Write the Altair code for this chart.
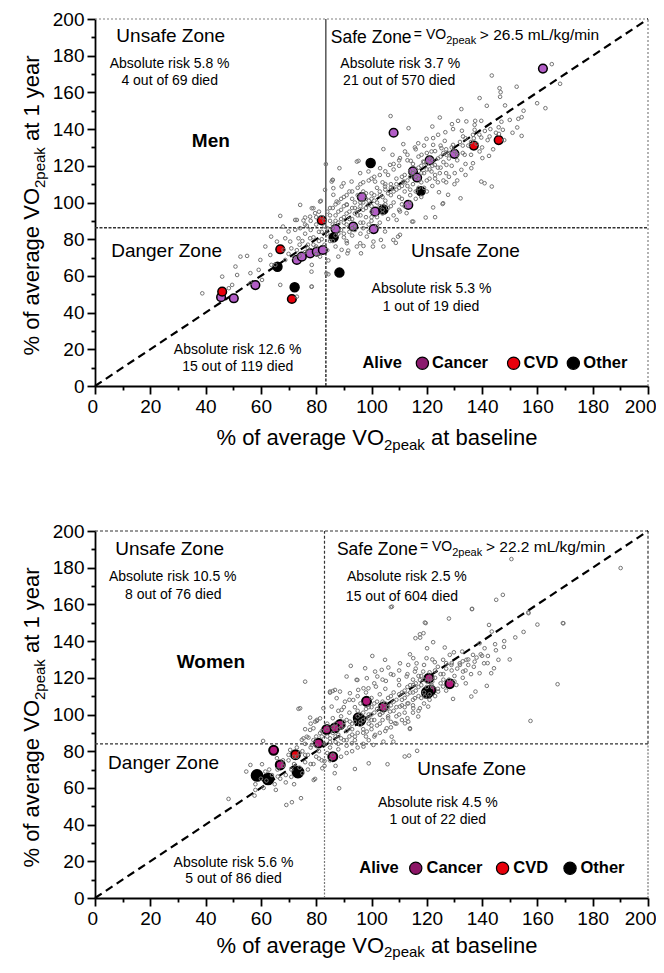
import altair as alt
import pandas as pd

FONT = "Liberation Sans"
W, H = 553, 367

# ---------------- MEN ----------------
men_alive = [
    (165.2,175.4),(168.2,164.7),(143.5,169.2),(146.3,162.3),(146.7,160.1),(146.5,157.6),(152.5,163.1),
    (139.1,156.9),(141.7,152.7),(148.3,152.9),(159.9,154.1),(162.9,151.4),(132.5,150.9),(106.9,147.1),
    (124.7,146.3),(153.1,145.6),(154.3,146.5),(131.3,144.5),(134.3,144.2),(137.5,144.5),(139.7,144.5),
    (129.1,142.7),(137.3,142.3),(113.4,140.5),(122.0,141.4),(126.7,138.3),(129.5,140.0),(132.7,139.1),
    (137.3,139.6),(152.7,140.9),(154.3,136.3),(147.5,139.6),(146.1,137.4),(133.1,136.0),(136.7,136.9),
    (139.7,135.4),(142.7,136.0),(124.1,136.9),(122.3,135.1),(126.5,133.6),(119.9,134.7),(116.9,132.3),
    (111.5,131.8),(104.3,129.1),(112.1,127.8),(115.7,130.0),(107.6,126.0),(110.3,124.2),(114.2,122.7),
    (139.1,127.8),(142.5,125.4),(140.1,124.2),(133.7,126.0),(136.7,121.4),(136.1,118.7),(132.5,117.8),
    (130.1,116.0),(139.7,111.4),(143.5,108.7),(140.9,110.5),(132.2,102.3),(127.7,104.2),(124.4,105.6),
    (125.9,99.6),(122.3,97.3),(119.6,91.8),(114.7,89.6),(109.1,90.5),(110.3,95.1),(95.3,122.7),
    (88.4,118.7),(83.5,120.9),(85.9,112.3),(89.2,108.7),(86.2,107.8),(83.2,106.9),(81.7,100.9),
    (79.0,96.9),(76.0,91.8),(95.9,116.0),(92.8,111.4),(98.9,116.9),(103.1,118.7),(106.7,120.5),
    (101.3,111.4),(104.9,108.7),(107.9,107.8),(111.5,111.4),(122.9,120.5),(127.1,120.5),(124.7,116.0),
    (121.7,116.9),(118.7,122.3),(118.1,126.0),(127.1,126.0),(125.3,129.6),(129.5,131.4),(122.3,131.4),
    (121.7,127.8),
    (94.7,122.3),(85.6,111.4),(89.9,110.5),(86.2,104.2),(81.4,100.5),(74.2,98.7),(78.4,96.9),
    (87.4,100.5),(91.1,98.7),(67.0,92.7),(73.0,90.5),(75.4,90.2),(77.8,92.3),(79.6,94.2),(68.0,86.9),
    (70.0,84.2),(72.4,85.1),(74.2,86.0),(76.6,87.3),(63.7,81.4),(65.8,78.7),(68.8,80.5),(70.6,78.7),
    (73.6,80.5),(77.8,80.5),(61.6,76.0),(59.8,68.7),(63.4,71.4),(68.2,74.2),(65.2,66.0),(68.8,68.7),
    (52.6,70.5),(55.0,70.9),(50.8,65.1),(51.4,60.5),(56.2,61.5),(59.2,63.3),(46.0,59.6),(49.6,55.1),
    (48.4,53.3),(56.2,56.0),(60.4,57.8),(67.0,55.1),(78.4,54.2),(84.4,60.9),(84.4,68.4),(88.0,70.5),
    (91.6,73.8),(94.7,76.0),(97.1,76.3),(100.7,78.7),(104.3,76.0),(107.9,79.6),(110.3,82.4),(115.1,89.6),
    (112.7,94.2),(104.9,84.2),(98.3,81.4),(91.1,77.8),(89.2,74.2),(81.4,70.5),(78.4,66.0),(38.8,50.5),
    (95.9,77.8),(103.4,79.6),(109.6,81.4),(108.8,78.0),(91.3,72.3),(96.2,72.3),(100.5,76.0),(78.3,62.3),
    (83.7,61.4),(63.8,66.0),(73.0,48.7),(78.3,54.1),(123.0,92.0),(125.7,99.2),(72.4,90.5),(86.0,112.3),
    (75,79),(76,83),(77,77),(78,85),(79,81),(80,88),(80,76),(81,84),(82,80),(82,92),(83,87),(84,83),
    (84,95),(85,90),(85,79),(86,86),(86,97),(87,93),(87,82),(88,89),(88,100),(89,85),(89,96),(90,92),
    (90,103),(91,88),(91,99),(92,95),(92,84),(92,106),(93,91),(93,102),(94,97),(94,87),(95,104),(95,93),
    (96,100),(96,110),(96,89),(97,96),(97,106),(98,92),(98,102),(99,99),(99,112),(99,88),(100,105),
    (100,95),(101,101),(101,114),(102,108),(102,92),(103,98),(103,104),(104,111),(104,94),(105,107),
    (105,101),(106,115),(106,97),(107,104),(107,110),(108,100),(108,118),(109,107),(109,113),(110,103),
    (110,120),(111,109),(111,99),(112,115),(112,106),(113,112),(113,123),(114,104),(114,117),(115,110),
    (115,121),(116,106),(116,114),(117,119),(117,125),(118,111),(118,116),(119,122),(119,108),(120,118),
    (120,127),(121,113),(121,124),(122,120),(123,115),(123,128),(124,124),(125,119),(125,131),(126,122),
    (127,116),(127,129),(128,124),(129,120),(130,128),(131,123),(132,133),(133,127),(134,121),(135,131),
    (136,126),(138,132),(140,130),(142,134),(144,129),(146,141),(148,134),(150,145),(151,138),(155,150),
    (70,72),(71,75),(72,70),(73,74),(74,77),(74,71),(76,73),(77,75),(79,77),(80,72),(81,79),(83,77),
    (84,74),(86,79),(87,76),(88,83),(90,81),(91,79),(93,82),(94,85),(96,83),(97,86),(99,84),(100,90),
    (102,87),(103,89),(106,91),(108,93),(110,96),(112,98),(114,100),(116,102),(118,103),(120,106),
    (122,109),(124,111),(126,112),(128,114),(130,110),(131,112),(134,115),
    (82,84),(83,90),(84,86),(85,93),(86,88),(87,90),(88,95),(89,91),(90,89),(90,98),(91,94),(92,91),
    (93,97),(94,94),(94,100),(95,96),(96,98),(96,93),(97,100),(98,97),(98,105),(99,101),(100,98),
    (100,102),(101,104),(102,100),(103,106),(104,103),(105,99),(105,110),(106,105),(107,108),(108,106),
    (109,110),(110,108),(111,114),(112,111),(113,109),(114,114),(115,116),(116,118),(117,113),(118,120),
    (119,116),(120,121),(121,118),(122,123),(124,119),(125,125),(126,127),(128,127),(129,130),(131,126),
    (133,131),(134,135),(136,133),(137,135),(139,137),(141,139),(143,140),(145,138),(147,144),(85,97),
    (87,99),(89,102),(91,104),(93,106),(95,108),(97,111),(100,113),(103,115),(105,117),(108,121),
    (110,123),(113,126),(116,129),(119,131),(90,83),(93,86),(97,89),(100,92),(104,96),(107,98),(111,102),
    (114,107),(117,108),(120,112),(123,113),(127,111),(76,88),(78,90),(80,92),(81,95),
]
men_cancer = [(162,173),(108,138),(130,126.5),(121,123),(115,117),(116.5,113.6),(113.3,98.7),(96.5,103),
              (101.3,95),(93.4,86.9),(100.8,85.5),(87,85.5),(73,68.7),(74.8,70.5),(77.8,72.3),(80.2,73.2),
              (82.4,74.1),(58,55),(45.6,48.4),(50.2,47.8)]
men_cvd = [(137,131),(146,134),(82,90.3),(67,74.5),(71.2,47.4),(46,51.4)]
men_other = [(99.7,121.5),(117.8,106.2),(104.3,96.2),(86.3,81),(66,65),(88.4,61.8),(72.2,53.8)]

men_zone_labels = [("Unsafe Zone",27.4,187.2),("Danger Zone",25.9,70.5),("Unsafe Zone",134,70.5)]
men_risk_texts = [("Absolute risk 5.8 %",27,173.2),("4 out of 69 died",27,164.1),
                  ("Absolute risk 3.7 %",110.4,173.2),("21 out of 570 died",110,164.1),
                  ("Absolute risk 5.3 %",121.7,50.5),("1 out of 19 died",121.5,40.9),
                  ("Absolute risk 12.6 %",51.6,17.4),("15 out of 119 died",51.6,8.4)]
men_group = ("Men",41.9,130.5)
men_safe = (85.3,186.8,"> 26.5 mL/kg/min")
men_thr = (83.5,86.2)
men_legend_text = [("Alive",96.7),("Cancer",121.9),("CVD",155),("Other",176.6)]
men_legend_sym = [(118.4,"Cancer"),(151.4,"CVD"),(173,"Other")]
men_legend_y = 12.4

# ---------------- WOMEN ----------------
women_alive = [
    (147.5,165.2),(145.1,162.5),(136.3,157.4),(107.0,158.5),(119.3,150.1),(128.0,152.3),(156.8,155.2),
    (169.4,149.7),(117.5,143.7),(115.9,141.6),(122.3,139.4),(120.1,136.1),(126.5,136.5),(129.8,133.9),
    (132.8,134.3),(139.1,138.8),(142.5,148.8),(143.5,145.2),(144.7,138.3),(147.9,136.8),(140.9,136.1),
    (139.5,132.8),(142.1,131.9),(136.7,132.5),(134.3,129.8),(137.3,128.8),(140.7,127.9),(144.3,125.2),
    (145.9,129.8),(143.3,122.5),(139.1,122.5),(133.1,123.4),(131.9,127.9),(128.9,127.0),(125.9,129.8),
    (128.3,132.5),(122.9,128.5),(119.9,130.7),(116.3,127.9),(113.9,132.8),(115.1,130.7),(113.3,127.0),
    (110.3,127.9),(106.1,125.6),(103.7,124.3),(107.9,121.6),(109.9,118.8),(112.7,120.7),(115.7,123.4),
    (118.7,123.4),(117.5,118.8),(115.1,116.1),(100.3,131.9),(104.9,129.8),(92.5,126.5),(97.7,125.2),
    (101.3,123.4),(91.0,120.7),(94.9,118.8),(98.3,119.8),(102.1,120.7),(105.2,118.3),(86.0,112.8),
    (85.0,111.9),(88.6,112.5),(92.2,111.6),(95.2,113.4),(98.9,114.3),(101.6,115.2),(87.4,108.9),
    (90.4,107.0),(93.4,107.9),(82.6,103.4),(85.6,104.3),(89.2,102.5),(81.4,97.9),(77.8,98.3),(79.6,96.1),
    (76.0,117.9),(74.2,103.4),(77.8,91.6),(76.6,87.9),(75.4,87.0),(134.1,117.0),(136.1,109.8),
    (137.6,112.5),(141.7,115.6),(129.5,108.5),(130.7,116.1),(167.3,116.5),(157.5,96.5),(124.1,112.5),
    (125.9,115.2),(121.7,116.1),(119.3,109.8),(115.7,108.9),(113.3,106.1),(110.3,104.3),(115.1,103.4),
    (116.9,98.9),(113.3,96.1),(113.9,92.5),(108.5,95.2),(105.5,92.5),(107.3,87.9),(104.3,85.2),
    (101.3,88.9),(98.3,90.7),(95.9,94.3),(92.2,96.1),(98.9,97.9),(103.1,99.8),(106.7,101.6),
    (190.1,179.8),(150.6,184.7),(156.7,155.6),(169.2,149.8),(80.3,97.1),(107.4,158.8),(119.6,149.8),
    (136.4,157.6),(118.8,144.3),(117.6,141.9),
    (48.3,54.0),(57.7,55.8),(58.0,58.9),(65.4,58.9),(69.2,50.7),(71.2,52.2),(74.5,54.4),(60.8,85.6),
    (88.3,59.8),(99.0,73.4),(105.8,72.9),(112.0,77.1),(116.5,80.2),(113.9,92.1),(82.2,70.7),(79.1,64.3),
    (86.7,68.0),(83.0,74.7),(56.2,72.5),(54.7,68.9),(61.6,68.9),(66.1,66.2),(73.6,103.1),(79.6,64.9),
    (94.0,70.3),(113.6,77.6),(107.9,85.2),(100.7,83.4),(97.1,82.5),(92.9,84.3),(80.2,96.5),(85.0,112.5),
    (86.8,113.4),(94.6,118.9),(97.1,114.3),(60.4,72.9),(65.8,76.2),(70.6,80.7),(76.0,78.0),(78.4,83.4),
    (77.2,87.4),(74.8,86.2),(79.0,92.5),(81.4,89.8),(112.1,95.2),(117.5,103.4),(120.5,104.3),
    (66,70),(68,72),(69,67),(70,75),(71,70),(72,73),(73,77),(74,71),(75,80),(76,74),(77,78),(78,82),
    (78,73),(79,86),(80,77),(80,83),(81,80),(82,88),(82,75),(83,84),(84,79),(84,92),(85,87),(85,82),
    (86,90),(86,78),(87,95),(87,85),(88,89),(88,81),(89,93),(89,99),(90,86),(90,96),(91,91),(91,83),
    (92,101),(92,88),(93,95),(93,92),(94,104),(94,86),(95,99),(95,90),(96,96),(96,106),(97,92),(97,101),
    (98,98),(98,88),(99,104),(99,95),(100,109),(100,100),(100,92),(101,97),(101,106),(102,103),(102,94),
    (103,100),(103,111),(104,107),(104,97),(105,103),(105,114),(106,99),(106,109),(107,105),(107,96),
    (108,112),(108,102),(109,108),(110,100),(110,116),(111,105),(111,112),(112,109),(112,101),(113,115),
    (113,106),(114,112),(115,119),(115,108),(116,113),(117,110),(117,121),(118,116),(119,112),(120,118),
    (121,123),(122,115),(123,120),(124,126),(125,117),(126,122),(127,128),(128,119),(129,124),(130,121),
    (132,127),(134,124),(135,130),(137,126),(140,132),(142,128),(145,135),(148,140),(150,130),(152,142),
    (155,145),(160,149),
    (62,64),(64,67),(65,62),(67,65),(63,70),(60,65),(58,62),(61,60),(69,63),(71,66),(72,62),(75,68),
    (77,70),(79,73),(81,76),(83,72),(85,75),(87,72),(89,77),(91,79),(93,80),(95,82),(97,84),(99,86),
    (101,88),(103,90),(105,91),(107,93),(109,95),(111,97),(113,98),(115,101),(117,102),(119,106),
    (121,108),(123,110),
    (84,88),(85,85),(86,93),(87,88),(88,92),(89,87),(90,94),(91,97),(92,93),(93,89),(94,96),(95,102),
    (96,100),(97,97),(98,103),(99,100),(100,97),(100,104),(101,101),(102,107),(103,104),(104,101),
    (105,106),(106,104),(107,110),(108,107),(109,104),(110,111),(111,108),(112,113),(113,111),(114,116),
    (115,112),(116,117),(117,115),(118,121),(119,119),(120,115),(121,120),(122,118),(123,124),(125,122),
    (126,119),(127,125),(129,128),(131,125),(133,129),(135,127),(138,131),(80,88),(82,91),(84,95),
    (86,98),(88,102),(90,104),(92,108),(95,110),(98,112),(101,117),(104,119),(107,122),(110,124),
    (113,122),(116,125),(119,127),(122,130),(88,84),(91,86),(94,88),(97,90),(100,94),(103,95),(106,98),
    (109,99),(112,104),(115,105),(118,109),(121,111),(124,114),(127,113),(130,118),(133,120),(136,122),
    (76,84),(74,79),(72,77),(70,78),(68,75),(73,82),(76,92),(78,95),
]
women_cancer = [(128.3,116.8),(120.8,119.8),(121.5,113.3),(98.2,107.2),(104.3,104.1),(95.2,98.2),
                (88.6,94.5),(83.8,91.8),(86.8,92.7),(80.8,84.4),(86,77),(64.6,80.5),(67,72.5)]
women_cvd = [(72.5,78.1)]
women_other = [(58.6,66.8),(62.6,64.9),(73.4,68.6),(120.2,112),(95.8,97)]

women_zone_labels = [("Unsafe Zone",27,187),("Danger Zone",24.8,70.5),("Unsafe Zone",136.2,67.1)]
women_risk_texts = [("Absolute risk 10.5 %",28.1,172.8),("8 out of 76 died",28.3,162.9),
                    ("Absolute risk 2.5 %",112.8,172.8),("15 out of  604 died",111,161.6),
                    ("Absolute risk 4.5 %",124,49.8),("1 out of 22 died",124,40.4),
                    ("Absolute risk 5.6 %",50.1,17.1),("5 out of 86 died",50.1,8.0)]
women_group = ("Women",41.9,125.6)
women_safe = (87.5,186.8,"> 22.2 mL/kg/min")
women_thr = (83,84)
women_legend_text = [("Alive",95.6),("Cancer",119.9),("CVD",151.3),("Other",175.6)]
women_legend_sym = [(116,"Cancer"),(147.4,"CVD"),(171.8,"Other")]
women_legend_y = 16.2

tick_values = list(range(0, 201, 10))

# ---------------- helpers ----------------
xs = alt.Scale(domain=[0, 200], nice=False, zero=False)
ys = alt.Scale(domain=[0, 200], nice=False, zero=False)
tick_cond = {"condition": {"test": "datum.value % 20 === 0", "value": 8}, "value": 4}
axis_common = dict(values=tick_values, labelExpr="datum.value % 20 === 0 ? datum.label : ''",
                   title=None, grid=False, tickSize=tick_cond, tickWidth=1.8, domainWidth=1.8,
                   domainColor="black", tickColor="black", labelFont=FONT, labelFontSize=19,
                   labelColor="black", labelOverlap=False)
XA = alt.Axis(labelPadding=3, labelFlush=True, labelFlushOffset=8, **axis_common)
YA = alt.Axis(labelPadding=3, labelFlush=False, **axis_common)


def X(f="x"):
    return alt.X(f"{f}:Q", scale=xs, axis=XA)


def Y(f="y"):
    return alt.Y(f"{f}:Q", scale=ys, axis=YA)


def pts_df(p):
    return pd.DataFrame({"x": [a for a, b in p], "y": [b for a, b in p]})


def text_df(items):
    return pd.DataFrame({"t": [a for a, b, c in items], "x": [b for a, b, c in items],
                         "y": [c for a, b, c in items]})


def rules(segs, **kw):
    df = pd.DataFrame(segs, columns=["x", "y", "x2", "y2"])
    return alt.Chart(df).mark_rule(**kw).encode(x=X(), y=Y(), x2="x2:Q", y2="y2:Q")


def axis_titles(ylabel_rest, title_base, sub_dy):
    base = pd.DataFrame({"k": [0]})
    layers = []
    # x title
    xa, ya = 289, H + title_base
    for txt, fs, dx, dy, al in [("% of average VO", 22, 0, 0, "right"), ("2peak", 15, 0, sub_dy, "left"),
                                ("at baseline", 22, 47, 0, "left")]:
        layers.append(alt.Chart(base).mark_text(text=txt, font=FONT, fontSize=fs, align=al,
                                                baseline="alphabetic", dx=dx, dy=dy, color="black")
                      .encode(x=alt.value(xa), y=alt.value(ya)))
    # y title
    xb, yb = -56, 169
    for txt, fs, dx, dy, al in [("% of average VO", 22, 0, 0, "right"), ("2peak", 15, 0, 6, "left"),
                                (ylabel_rest, 22, 47, 0, "left")]:
        layers.append(alt.Chart(base).mark_text(text=txt, font=FONT, fontSize=fs, align=al, angle=270,
                                                baseline="alphabetic", dx=dx, dy=dy, color="black")
                      .encode(x=alt.value(xb), y=alt.value(yb)))
    return layers


def panel(alive, cancer, cvd, other, zone_labels, risk_texts, group, safe, thr, leg_text, leg_sym,
          leg_y, cancer_col, leg_cancer_col, line_style, dead_size, other_size, dead_sw,
          title_base, sub_dy):
    tx, ty = thr
    layers = []
    if line_style == "men":
        layers.append(rules([(0, 200, 200, 200), (200, 0, 200, 200)], color="#808080",
                            strokeWidth=1.2, strokeDash=[2, 2]))
        layers.append(rules([(0, ty, 200, ty), (tx, 0, tx, ty)], color="#333333",
                            strokeWidth=1.5, strokeDash=[3, 1.5]))
        layers.append(rules([(tx, ty, tx, 200)], color="black", strokeWidth=1))
    else:
        layers.append(rules([(0, 200, 200, 200), (200, ty, 200, 200), (0, ty, 200, ty), (tx, ty, tx, 200)],
                            color="#333333", strokeWidth=1.2, strokeDash=[3, 2]))
        layers.append(rules([(tx, 0, tx, ty), (200, 0, 200, ty)], color="#777777",
                            strokeWidth=1.2, strokeDash=[2, 1.5]))
    diag = pd.DataFrame({"x": [0, 200], "y": [0, 200]})
    layers.append(alt.Chart(diag).mark_line(color="black", strokeWidth=2.2, strokeDash=[8, 5])
                  .encode(x=X(), y=Y()))
    for p, col, sz in [(cancer, cancer_col, dead_size), (cvd, "#e8000b", dead_size), (other, "black", other_size)]:
        layers.append(alt.Chart(pts_df(p)).mark_point(shape="circle", filled=True, fill=col, stroke="black",
                                                       strokeWidth=dead_sw, size=sz, opacity=1)
                      .encode(x=X(), y=Y()))
    layers.append(alt.Chart(pts_df(alive)).mark_point(shape="circle", filled=False, stroke="#747474",
                                                      strokeWidth=1, size=13, opacity=1)
                  .encode(x=X(), y=Y()))
    # texts
    layers.append(alt.Chart(text_df(zone_labels)).mark_text(font=FONT, fontSize=19, align="center",
                                                            baseline="alphabetic", color="black")
                  .encode(x=X(), y=Y(), text="t:N"))
    layers.append(alt.Chart(text_df(risk_texts)).mark_text(font=FONT, fontSize=14, align="center",
                                                           baseline="alphabetic", color="black")
                  .encode(x=X(), y=Y(), text="t:N"))
    layers.append(alt.Chart(text_df([group])).mark_text(font=FONT, fontSize=19, fontWeight="bold",
                                                        align="center", baseline="alphabetic", color="black")
                  .encode(x=X(), y=Y(), text="t:N"))
    sx, sy, srest = safe
    for txt, fs, dx, dy in [("Safe Zone", 17.5, 0, 0), ("= VO", 14, 83, -4), ("2peak", 11, 115.3, 1),
                            (srest, 15.5, 149, -3)]:
        layers.append(alt.Chart(text_df([(txt, sx, sy)])).mark_text(font=FONT, fontSize=fs, align="left",
                                                                    baseline="alphabetic", dx=dx, dy=dy,
                                                                    color="black")
                      .encode(x=X(), y=Y(), text="t:N"))
    # legend
    cols = {"Cancer": leg_cancer_col, "CVD": "#e8000b", "Other": "black"}
    for lx, name in leg_sym:
        layers.append(alt.Chart(pts_df([(lx, leg_y)])).mark_point(shape="circle", filled=True, fill=cols[name],
                                                                  stroke="black", strokeWidth=1.2, size=150,
                                                                  opacity=1)
                      .encode(x=X(), y=Y()))
    layers.append(alt.Chart(text_df([(t, lx, leg_y) for t, lx in leg_text]))
                  .mark_text(font=FONT, fontSize=16.5, fontWeight="bold", align="left", baseline="middle",
                             color="black")
                  .encode(x=X(), y=Y(), text="t:N"))
    layers += axis_titles("at 1 year", title_base, sub_dy)
    return alt.layer(*layers).properties(width=W, height=H)


men = panel(men_alive, men_cancer, men_cvd, men_other, men_zone_labels, men_risk_texts, men_group,
            men_safe, men_thr, men_legend_text, men_legend_sym, men_legend_y,
            "#b25dc6", "#8b1a6e", "men", 75, 80, 1.5, 59, 5)
women = panel(women_alive, women_cancer, women_cvd, women_other, women_zone_labels, women_risk_texts,
              women_group, women_safe, women_thr, women_legend_text, women_legend_sym, women_legend_y,
              "#b3187c", "#8c1566", "women", 80, 115, 2, 55, 4)

chart = alt.vconcat(men, women, spacing=69).properties(
    padding={"left": 13, "top": 2, "right": 0, "bottom": 0}
).configure_view(stroke=None)

chart.save("out.html", embed_options={"renderer": "svg", "actions": False})
